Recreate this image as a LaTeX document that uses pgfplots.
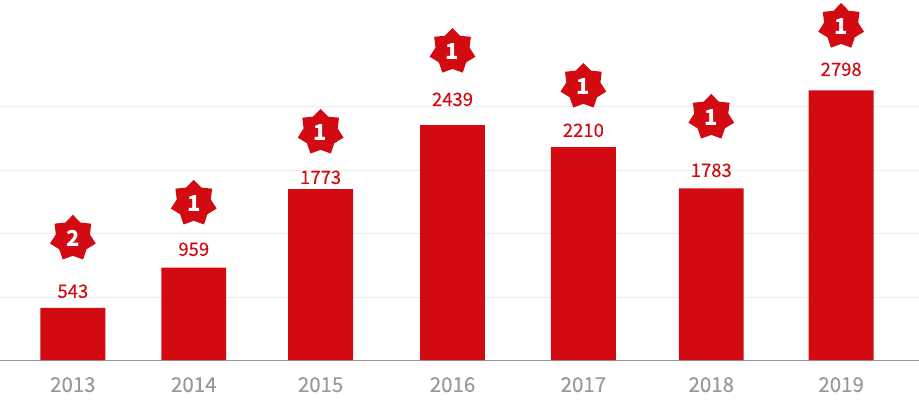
\documentclass[border=0pt]{standalone}
\usepackage{fontspec}
\setmainfont{Noto Sans CJK KR}
\newfontfamily\labelfont[FakeBold=0.25]{Noto Sans CJK KR}
\usepackage{pgfplots}
\usepackage{pgfplotstable}
\pgfplotsset{compat=1.18}
\definecolor{barred}{HTML}{D20A11}
\definecolor{yeargray}{HTML}{999999}
\definecolor{gridgray}{HTML}{EDEDED}
\definecolor{baseline}{HTML}{999999}
\newcommand{\SP}[2]{\pgfpathlineto{\pgfpointpolar{#1}{#2}}}
\pgfdeclareplotmark{star7}{%
  \pgfpathmoveto{\pgfpointpolar{90}{23.5pt}}%
  \SP{115.71}{17.5pt}\SP{141.43}{23.5pt}\SP{167.14}{17.5pt}\SP{192.86}{23.5pt}%
  \SP{218.57}{17.5pt}\SP{244.29}{23.5pt}\SP{270}{17.5pt}\SP{295.71}{23.5pt}%
  \SP{321.43}{17.5pt}\SP{347.14}{23.5pt}\SP{12.86}{17.5pt}\SP{38.57}{23.5pt}%
  \SP{64.29}{17.5pt}\pgfpathclose\pgfusepathqfill}
\pgfplotstableread{
x value labely label stary rank
72.5 543 715 543 1264 2
193.5 959 1150 959 1627 1
320.5 1773 1896 1773 2363 1
452.5 2439 2705 2439 3202 1
583.5 2210 2384 2210 2840 1
711.5 1783 1969 1783 2518 1
841.5 2798 3016 2798 3461 1
}\data
\begin{document}
\begin{tikzpicture}
\begin{axis}[
  scale only axis, width=919pt, height=400pt,
  xmin=0, xmax=919, ymin=-409, ymax=3736,
  clip=false,
  axis x line*=middle, axis y line=none,
  axis line style={-, draw=baseline, line width=0.9pt},
  xtick={72.5,193.5,320.5,452.5,583.5,711.5,841.5},
  xticklabels={2013,2014,2015,2016,2017,2018,2019},
  xticklabel style={text=yeargray, font=\labelfont\fontsize{20.5}{24}\selectfont, anchor=center, yshift=-24.5pt},
  x tick style={draw=none}, major tick length=0pt,
  every node near coord/.append style={anchor=center},
]
\path[use as bounding box] (rel axis cs:0,0) rectangle (rel axis cs:1,1);
\addplot[gridgray, line width=0.8pt, forget plot] coordinates {(0,653)(919,653)};
\addplot[gridgray, line width=0.8pt, forget plot] coordinates {(0,1311)(919,1311)};
\addplot[gridgray, line width=0.8pt, forget plot] coordinates {(0,1969)(919,1969)};
\addplot[gridgray, line width=0.8pt, forget plot] coordinates {(0,2632)(919,2632)};
\addplot[ybar, bar width=65, fill=barred, draw=none] table[x=x, y=value] {\data};
\addplot[only marks, mark=none, nodes near coords, point meta=explicit symbolic,
  every node near coord/.append style={text=barred, font=\labelfont\fontsize{18.5}{22}\selectfont}]
  table[x=x, y=labely, meta=label] {\data};
\addplot[only marks, mark=star7, color=barred, nodes near coords, point meta=explicit symbolic,
  every node near coord/.append style={text=white, font=\fontsize{22}{26}\selectfont\bfseries}]
  table[x=x, y=stary, meta=rank] {\data};
\end{axis}
\end{tikzpicture}
\end{document}
